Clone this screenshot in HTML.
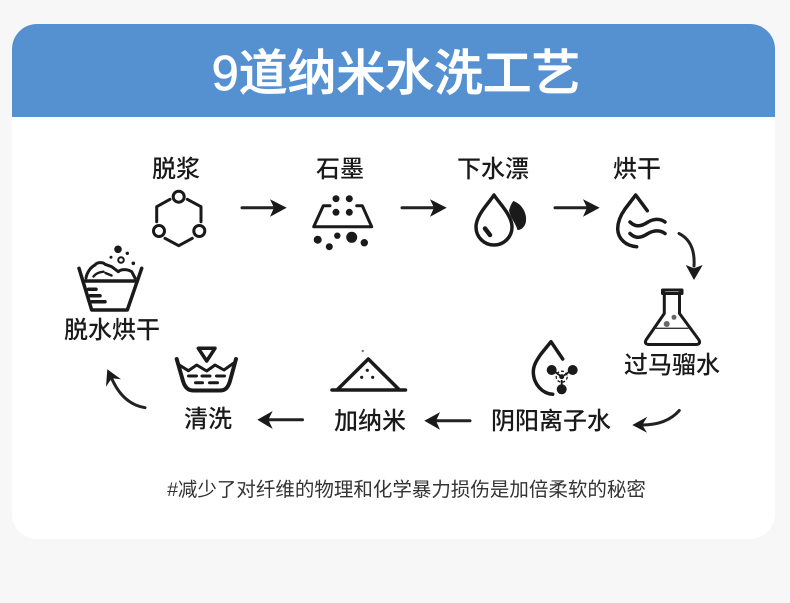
<!DOCTYPE html>
<html lang="zh">
<head>
<meta charset="utf-8">
<style>
html,body{margin:0;padding:0;width:790px;height:603px;overflow:hidden;background:#f7f7f7}
svg{display:block}
text{font-family:"Liberation Sans","Noto Sans CJK SC",sans-serif;text-anchor:middle}
.l{font-size:24px;fill:#1a1a1a;font-weight:500}
.i{fill:none;stroke:#1a1a1a;stroke-width:3.500;stroke-linecap:round;stroke-linejoin:round}
.f{fill:#1a1a1a;stroke:none}
.a{fill:none;stroke:#222;stroke-width:3;stroke-linecap:round}
</style>
</head>
<body>
<svg width="790" height="603" viewBox="0 0 790 603" xmlns="http://www.w3.org/2000/svg">
<rect x="12" y="24" width="763" height="515" rx="25" fill="#fff"/>
<path d="M12 117V49A25 25 0 0 1 37 24H750A25 25 0 0 1 775 49V117Z" fill="#5590d0"/>
<text x="396" y="90" style="font-size:48.800px;font-weight:500;stroke:#fff;stroke-width:.7px" fill="#fff">9道纳米水洗工艺</text>

<text class="l" x="176" y="177">脱浆</text>
<text class="l" x="340" y="177">石墨</text>
<text class="l" x="493" y="177">下水漂</text>
<text class="l" x="637" y="177">烘干</text>
<text class="l" x="112" y="338">脱水烘干</text>
<text class="l" x="672" y="373">过马骝水</text>
<text class="l" x="208" y="427">清洗</text>
<text class="l" x="370" y="429">加纳米</text>
<text class="l" x="551" y="429">阴阳离子水</text>
<text x="406.500" y="496" style="font-size:19.500px" fill="#333">#减少了对纤维的物理和化学暴力损伤是加倍柔软的秘密</text>

<!-- 脱浆 -->
<g class="i" style="stroke-width:3">
<circle cx="178.700" cy="196.700" r="5.500"/><circle cx="159" cy="231" r="5.500"/><circle cx="199.300" cy="231" r="5.500"/>
<path d="M170 199.300L156.700 206.700V221.700M187.300 199.300L201 206.700V221.700M165 238.300L178.700 245.700L192.300 238.300"/>
</g>
<!-- arrows top -->
<path class="a" d="M242 207.700H276M402 207.700H436M555 207.700H589"/>
<path class="f" d="M270 199.300L286.700 207.700L270 216.700L274 207.700Z"/>
<path class="f" d="M430 199.300L446.700 207.700L430 216.700L434 207.700Z"/>
<path class="f" d="M583 199.300L599.700 207.700L583 216.700L587 207.700Z"/>
<!-- 石墨 -->
<path class="i" d="M330 205.700H323.300L313.700 226.700H371.700L362.300 205.700H356.700" style="stroke-width:3"/>
<g class="f">
<circle cx="336" cy="198.700" r="3.500"/><circle cx="349.300" cy="198.700" r="3.500"/><circle cx="336" cy="212.300" r="3.500"/><circle cx="349.300" cy="212.300" r="3.500"/>
<circle cx="317.700" cy="239.700" r="4"/><circle cx="329.300" cy="246.700" r="3.500"/><circle cx="337.300" cy="235.700" r="3.200"/><circle cx="351.700" cy="237.300" r="5.500"/><circle cx="364.300" cy="242.700" r="3.700"/>
</g>
<!-- 下水漂 -->
<path class="i" d="M494 195C489 203 476 215 476 227C476 237 484 245 494 245C504 245 512 237 512 227C512 215 499 203 494 195Z"/>
<path class="f" d="M513.300 201C521 203.500 527 212 526 221C525.500 226 522 230 517.500 230C516 224 510.500 218 509 210.500C510 207 511 204 513.300 201Z"/>
<path class="i" d="M485 228.500L490 235" style="stroke-width:4.500"/>
<!-- 烘干 -->
<path class="i" d="M647.300 210.700L635.700 195L625 209C620 216 617.700 223 617.700 229C618 239 626 246 636.700 246.700"/>
<path class="i" d="M630 222C636 228 642 226 648 222C653 219 660 218 665 222M630 233.500C636 239.500 642 237.500 648 233.500C653 230.500 660 229.500 665 233.500"/>
<!-- curve right -->
<path class="a" d="M679 233.500C690 239 695 250 694 266"/>
<path class="f" d="M685.700 265L694 268.300L702.700 265L694 280Z"/>
<!-- 烧瓶 -->
<path class="i" d="M662.500 290H682V293.500H662.500Z" style="stroke-width:3"/>
<path class="i" d="M664.300 293V313.500L646 340C644.500 343 646 344.500 649 344.500H696C699 344.500 700.500 343 699 340L679.500 313.500V293" style="stroke-width:3"/>
<path d="M655 328.300H688.500" stroke="#333" stroke-width="1.300"/>
<circle cx="666.700" cy="324" r="3" fill="#666"/><circle cx="674" cy="317.300" r="2.500" fill="#666"/>
<!-- 离子水 -->
<path class="i" d="M562.700 359L551 341.700L541 354C536 361 533.300 366 533.300 372C533.500 384 542 393.500 552.700 394.300"/>
<g class="f">
<circle cx="551.700" cy="370" r="5"/><circle cx="572.700" cy="370" r="5"/><circle cx="561.700" cy="389.300" r="5"/><circle cx="561.700" cy="376.700" r="2.500"/>
</g>
<circle cx="561.700" cy="376.700" r="5.500" fill="none" stroke="#1a1a1a" stroke-width="1.300" stroke-dasharray="3 2"/>
<path d="M553 370.500L560 375.500M571 370.500L564 375.500M561.700 380V386" stroke="#1a1a1a" stroke-width="1.800"/>
<!-- curve lower right -->
<path class="a" d="M679.300 410.500C671 420 658 425 642 425"/>
<path class="f" d="M647.300 416.700L642.300 425L647 432.700L632.300 425Z"/>
<!-- bottom arrows -->
<path class="a" d="M470 420.700H436M302.500 419.700H268"/>
<path class="f" d="M440 412.300L424.300 420.700L440 429.700L436 420.700Z"/>
<path class="f" d="M272.700 411L257.300 419.700L272.700 429L268.300 419.700Z"/>
<!-- 加纳米 -->
<path class="i" d="M332 390H405.500M337.500 389.500L368.300 359L399 389.500"/>
<circle cx="362.700" cy="351" r="1.200" fill="#777"/>
<g class="f"><circle cx="367.300" cy="370.300" r="1.600"/><circle cx="361.700" cy="377.300" r="1.600"/><circle cx="372.700" cy="377.300" r="1.600"/></g>
<!-- 清洗 -->
<path class="i" d="M198.300 348.300H215L206.700 361Z"/>
<path class="i" d="M176.700 359L183 381C185 388 189 390.500 193 390.500H220C225 390.500 228 388 230 381L236 359" style="stroke-width:4"/>
<path class="i" d="M179.300 365L188.300 370.700L196.700 365L206.700 371L215 365L224 370L233.300 363.300" style="stroke-width:3"/>
<path class="i" d="M188.500 376H196.500M202 376H210M216.500 376H224.500M195.500 382.700H202.500M209.500 382.700H217.500" style="stroke-width:3"/>
<!-- curve lower left -->
<path class="a" d="M145 407.700C128 405 118 393 111.500 378"/>
<path class="f" d="M107.300 369.300L121 379.300L111.700 378.300L106 386.700Z"/>
<!-- 脱水烘干 icon -->
<path class="i" d="M79 268.300L91.700 310H127.300L141.700 268.300M85 281H137.300M88.500 289.300H96M90 295.700H100M91.700 301.700H105"/>
<path class="i" d="M86 278C87 272 91 267 95 265C97 262 103 262 105 264.300L111.700 266.700L118.300 271.700C121 269 128 269 131.700 271.700L135 278" style="stroke-width:3"/>
<path class="i" d="M93.500 276.500C96 273 100 272 103.500 271.700M105.500 273L111.500 275.500" style="stroke-width:2.400"/>
<g class="f"><circle cx="118" cy="249.300" r="3.800"/><circle cx="127.300" cy="253.300" r="1.700"/><circle cx="111" cy="257.300" r="1.500"/><circle cx="133.300" cy="263.300" r="1.800"/></g>
<circle cx="121" cy="260" r="2.800" fill="none" stroke="#1a1a1a" stroke-width="2"/>
</svg>
</body>
</html>
